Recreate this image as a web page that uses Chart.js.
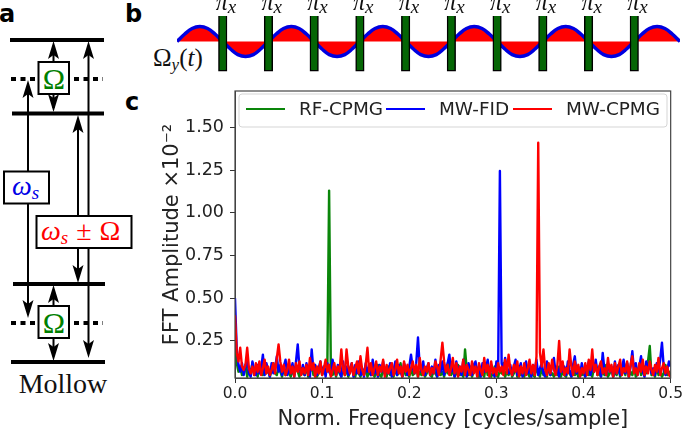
<!DOCTYPE html>
<html>
<head>
<meta charset="utf-8">
<title>Mollow FFT</title>
<script src="https://cdn.jsdelivr.net/npm/chart.js@4"></script>
<style>
html, body { margin: 0; padding: 0; background: #fff; }
body { width: 685px; height: 432px; overflow: hidden; position: relative; }
svg, .panel { position: absolute; }
canvas { display: block; }
#diagram { left: 0; top: 0; }
#pulsePanel { left: 140px; top: 0; width: 545px; height: 85px; }
#fftPanel { left: 140px; top: 85px; width: 545px; height: 347px; }
</style>
</head>
<body>
<!-- level diagram (panel a) and the panel letters, no data in here -->
<svg id="diagram" width="685" height="432" font-family="Liberation Serif">
	<defs>
		<g id="headUp"><path d="M0 0 L5.5 18 L0 14 L-5.5 18 Z" fill="#000"/></g>
	</defs>
	<g stroke="#000" stroke-width="4">
		<line x1="10" y1="40" x2="104" y2="40"/>
		<line x1="12" y1="113.5" x2="104" y2="113.5"/>
		<line x1="13" y1="284" x2="105" y2="284"/>
		<line x1="11" y1="362" x2="105" y2="362"/>
		<g stroke-dasharray="5 4.5">
			<line x1="11" y1="79" x2="39" y2="79"/>
			<line x1="74" y1="79" x2="103" y2="79"/>
			<line x1="11" y1="323" x2="39" y2="323"/>
			<line x1="74" y1="323" x2="103" y2="323"/>
		</g>
	</g>
	<g stroke="#000" stroke-width="2">
		<line x1="28" y1="84" x2="28" y2="312"/>
		<line x1="78" y1="120" x2="78" y2="278"/>
		<line x1="88.5" y1="46" x2="88.5" y2="352"/>
		<line x1="53.5" y1="46" x2="53.5" y2="108"/>
		<line x1="53.5" y1="290" x2="53.5" y2="356"/>
	</g>
	<use href="#headUp" x="53.5" y="41"/>
	<use href="#headUp" x="88.5" y="41"/>
	<use href="#headUp" x="28" y="80"/>
	<use href="#headUp" x="78" y="115"/>
	<use href="#headUp" x="53.5" y="285"/>
	<use href="#headUp" transform="translate(53.5 112) scale(1 -1)"/>
	<use href="#headUp" transform="translate(28 318) scale(1 -1)"/>
	<use href="#headUp" transform="translate(78 283) scale(1 -1)"/>
	<use href="#headUp" transform="translate(53.5 361) scale(1 -1)"/>
	<use href="#headUp" transform="translate(88.5 358) scale(1 -1)"/>
	<g fill="#fff" stroke="#000" stroke-width="2">
		<rect x="38.5" y="62" width="30.5" height="32"/>
		<rect x="38.5" y="306" width="30.5" height="32"/>
		<rect x="4" y="171.5" width="45" height="32"/>
		<rect x="36.5" y="216" width="95" height="32"/>
	</g>
	<g text-anchor="middle" font-size="30" fill="#008000">
		<text x="53.8" y="89">Ω</text>
		<text x="53.8" y="333">Ω</text>
	</g>
	<text x="12" y="195" font-size="28" font-style="italic" fill="#0000e6">ω<tspan font-size="19" dy="4">s</tspan></text>
	<text x="41" y="240" font-size="28" fill="#ff0000"><tspan font-style="italic">ω</tspan><tspan font-size="19" font-style="italic" dy="4">s</tspan><tspan dy="-4" dx="8">±</tspan><tspan dx="8">Ω</tspan></text>
	<text x="63" y="393" font-size="28" text-anchor="middle" fill="#111">Mollow</text>
	<text x="153" y="66" font-size="25" fill="#111">Ω<tspan font-size="17" font-style="italic" dy="4">y</tspan><tspan dy="-4">(</tspan><tspan font-style="italic">t</tspan>)</text>
	<g font-family="DejaVu Sans" font-weight="bold" font-size="24" fill="#000">
		<text x="-1" y="22">a</text>
		<text x="125" y="22">b</text>
		<text x="125" y="110">c</text>
	</g>
</svg>
<div class="panel" id="pulsePanel"><canvas id="pulseChart" width="545" height="85"></canvas></div>
<div class="panel" id="fftPanel"><canvas id="fftChart" width="545" height="347"></canvas></div>

<script>
// frequency bins shared by the three spectra
const freqs = [
	0.000,0.002,0.004,0.006,0.008,0.010,0.012,0.014,0.016,0.018,
	0.020,0.022,0.024,0.026,0.028,0.030,0.032,0.034,0.036,0.038,
	0.040,0.042,0.044,0.046,0.048,0.050,0.052,0.054,0.056,0.058,
	0.060,0.062,0.064,0.066,0.068,0.070,0.072,0.074,0.076,0.078,
	0.080,0.082,0.084,0.086,0.088,0.090,0.092,0.094,0.096,0.098,
	0.100,0.102,0.104,0.106,0.108,0.110,0.112,0.114,0.116,0.118,
	0.120,0.122,0.124,0.126,0.128,0.130,0.132,0.134,0.136,0.138,
	0.140,0.142,0.144,0.146,0.148,0.150,0.152,0.154,0.156,0.158,
	0.160,0.162,0.164,0.166,0.168,0.170,0.172,0.174,0.176,0.178,
	0.180,0.182,0.184,0.186,0.188,0.190,0.192,0.194,0.196,0.198,
	0.200,0.202,0.204,0.206,0.208,0.210,0.212,0.214,0.216,0.218,
	0.220,0.222,0.224,0.226,0.228,0.230,0.232,0.234,0.236,0.238,
	0.240,0.242,0.244,0.246,0.248,0.250,0.252,0.254,0.256,0.258,
	0.260,0.262,0.264,0.266,0.268,0.270,0.272,0.274,0.276,0.278,
	0.280,0.282,0.284,0.286,0.288,0.290,0.292,0.294,0.296,0.298,
	0.300,0.302,0.304,0.306,0.308,0.310,0.312,0.314,0.316,0.318,
	0.320,0.322,0.324,0.326,0.328,0.330,0.332,0.334,0.336,0.338,
	0.340,0.342,0.344,0.346,0.348,0.350,0.352,0.354,0.356,0.358,
	0.360,0.362,0.364,0.366,0.368,0.370,0.372,0.374,0.376,0.378,
	0.380,0.382,0.384,0.386,0.388,0.390,0.392,0.394,0.396,0.398,
	0.400,0.402,0.404,0.406,0.408,0.410,0.412,0.414,0.416,0.418,
	0.420,0.422,0.424,0.426,0.428,0.430,0.432,0.434,0.436,0.438,
	0.440,0.442,0.444,0.446,0.448,0.450,0.452,0.454,0.456,0.458,
	0.460,0.462,0.464,0.466,0.468,0.470,0.472,0.474,0.476,0.478,
	0.480,0.482,0.484,0.486,0.488,0.490,0.492,0.494,0.496,0.498,
	0.500
];

const rfCpmg = [
	.25,.12,.07,.10,.05,.08,.11,.04,.09,.06,
	.12,.05,.08,.04,.10,.07,.05,.11,.06,.09,
	.04,.08,.12,.06,.05,.10,.07,.04,.09,.05,
	.11,.06,.04,.08,.05,.10,.07,.04,.09,.06,
	.05,.10,.04,.07,.12,.05,.08,.04,.06,.10,
	.05,.08,.06,.11,1.13,.10,.05,.08,.04,.09,
	.06,.04,.10,.05,.08,.04,.07,.11,.05,.04,
	.09,.06,.04,.08,.05,.10,.04,.07,.05,.09,
	.04,.06,.11,.05,.04,.08,.06,.04,.10,.05,
	.07,.04,.09,.05,.06,.12,.04,.08,.05,.07,
	.04,.09,.05,.06,.10,.04,.07,.05,.08,.04,
	.06,.11,.05,.04,.08,.06,.04,.10,.05,.07,
	.04,.09,.06,.12,.05,.08,.04,.06,.11,.05,
	.07,.04,.20,.08,.05,.10,.04,.07,.12,.05,
	.04,.09,.06,.04,.11,.05,.08,.04,.06,.10,
	.05,.04,.08,.06,.12,.04,.07,.05,.09,.04,
	.06,.10,.04,.07,.05,.09,.04,.11,.06,.04,
	.08,.05,.04,.10,.06,.04,.09,.05,.07,.04,
	.11,.05,.06,.04,.08,.05,.10,.04,.07,.05,
	.04,.09,.06,.04,.11,.05,.07,.04,.08,.05,
	.06,.04,.10,.05,.07,.04,.09,.12,.05,.06,
	.04,.08,.05,.11,.04,.06,.09,.04,.07,.05,
	.10,.04,.06,.08,.05,.12,.04,.07,.05,.09,
	.04,.06,.11,.05,.08,.10,.06,.13,.22,.05,
	.07,.04,.10,.05,.08,.04,.06,.11,.05,.07,
	.05
];

const mwFid = [
	.50,.20,.11,.07,.12,.05,.10,.14,.06,.04,
	.13,.08,.05,.11,.06,.09,.17,.05,.12,.08,
	.04,.12,.06,.09,.16,.07,.11,.05,.10,.14,
	.05,.09,.06,.12,.04,.13,.23,.09,.06,.11,
	.05,.12,.07,.04,.20,.08,.11,.05,.09,.13,
	.06,.10,.04,.12,.07,.05,.14,.09,.05,.11,
	.07,.04,.13,.06,.10,.05,.09,.12,.04,.11,
	.06,.13,.05,.09,.04,.12,.07,.10,.05,.14,
	.06,.09,.04,.11,.07,.13,.05,.10,.06,.12,
	.04,.08,.13,.05,.11,.07,.04,.12,.09,.05,
	.10,.17,.09,.06,.12,.27,.10,.07,.13,.05,
	.09,.12,.05,.10,.06,.14,.04,.11,.07,.13,
	.05,.09,.12,.17,.07,.11,.04,.13,.06,.10,
	.05,.14,.07,.04,.12,.08,.05,.11,.13,.06,
	.10,.04,.12,.07,.09,.14,.05,.11,.06,.04,
	.13,.08,1.245,.12,.07,.15,.09,.06,.11,.05,
	.10,.14,.05,.08,.12,.04,.09,.13,.06,.10,
	.04,.11,.07,.14,.05,.09,.12,.06,.04,.13,
	.08,.05,.11,.15,.06,.09,.04,.12,.07,.10,
	.05,.13,.08,.04,.11,.16,.06,.10,.05,.12,
	.07,.04,.09,.13,.05,.11,.07,.14,.06,.10,
	.04,.18,.08,.05,.12,.07,.10,.04,.13,.06,
	.11,.05,.09,.14,.06,.12,.04,.10,.19,.07,
	.12,.05,.10,.16,.07,.04,.13,.08,.11,.06,
	.09,.05,.12,.07,.14,.24,.10,.05,.08,.13,
	.10
];

const mwCpmg = [
	.40,.18,.13,.21,.10,.08,.11,.21,.09,.06,
	.10,.05,.12,.07,.13,.05,.09,.14,.06,.10,
	.05,.08,.12,.06,.15,.23,.13,.07,.11,.05,
	.08,.14,.06,.10,.04,.12,.07,.13,.05,.09,
	.06,.11,.05,.15,.08,.12,.04,.10,.06,.13,
	.05,.09,.14,.07,.11,.04,.08,.12,.05,.10,
	.07,.20,.08,.05,.20,.10,.06,.12,.05,.09,
	.13,.06,.16,.08,.05,.11,.21,.07,.12,.05,
	.09,.13,.05,.10,.07,.14,.04,.11,.06,.09,
	.12,.05,.08,.14,.06,.10,.04,.13,.07,.11,
	.05,.09,.13,.06,.11,.04,.15,.08,.05,.10,
	.07,.12,.05,.09,.06,.13,.10,.05,.14,.24,
	.13,.07,.11,.05,.09,.15,.06,.12,.04,.10,
	.07,.14,.05,.11,.08,.05,.13,.06,.10,.04,
	.12,.08,.05,.15,.07,.11,.04,.13,.06,.09,
	.05,.12,.07,.10,.05,.14,.06,.17,.08,.05,
	.11,.07,.13,.04,.10,.06,.12,.05,.09,.14,
	.06,.11,.05,.16,1.41,.18,.10,.20,.08,.05,
	.12,.06,.14,.08,.05,.11,.25,.07,.13,.05,
	.09,.06,.20,.10,.05,.13,.07,.11,.04,.09,
	.06,.12,.05,.14,.08,.20,.07,.11,.05,.10,
	.13,.06,.09,.05,.15,.07,.11,.04,.12,.06,
	.10,.14,.05,.09,.07,.13,.04,.11,.16,.06,
	.09,.05,.12,.07,.14,.05,.10,.06,.13,.08,
	.05,.11,.07,.15,.05,.09,.12,.06,.10,.05,
	.04
];

const yTicks = [0.25, 0.50, 0.75, 1.00, 1.25, 1.50];

// panel b: drive envelope and the pi pulses, time in pulse spacings
const waveTimes = [
	0,.17,.33,.5,.67,.83,1,1.17,1.33,1.5,1.67,1.83,2,2.17,2.33,2.5,2.67,2.83,3,3.17,3.33,3.5,3.67,
	3.83,4,4.17,4.33,4.5,4.67,4.83,5,5.17,5.33,5.5,5.67,5.83,6,6.17,6.33,6.5,6.67,6.83,7,7.17,7.33,
	7.5,7.67,7.83,8,8.17,8.33,8.5,8.67,8.83,9,9.17,9.33,9.5,9.67,9.83,10,10.17,10.33,10.5,10.67,10.83,11
];
const waveValues = [
	0,.5,.87,1,.87,.5,0,-.5,-.87,-1,-.87,-.5,0,.5,.87,1,.87,.5,0,-.5,-.87,-1,-.87,
	-.5,0,.5,.87,1,.87,.5,0,-.5,-.87,-1,-.87,-.5,0,.5,.87,1,.87,.5,0,-.5,-.87,
	-1,-.87,-.5,0,.5,.87,1,.87,.5,0,-.5,-.87,-1,-.87,-.5,0,.5,.87,1,.87,.5,0
];
const pulseTimes = [1, 2, 3, 4, 5, 6, 7, 8, 9, 10];
const pulseLow = -1.97;
const pulseHigh = 1.7;

function toPoints(xs, ys) {
	return xs.map(function (x, i) {
		return { x: x, y: ys[i] };
	});
}

// pi_x labels sit over the pulses, placed from the x scale
const pulseLabels = {
	id: "pulseLabels",
	afterDatasetsDraw(chart) {
		const ctx = chart.ctx;
		const xScale = chart.scales.x;
		ctx.save();
		ctx.fillStyle = "#111";
		ctx.textAlign = "left";
		ctx.textBaseline = "alphabetic";
		for (let t of pulseTimes) {
			const px = xScale.getPixelForValue(t);
			ctx.font = "italic 24px 'Liberation Serif'";
			ctx.fillText("π", px - 7, 10);
			ctx.font = "italic 19px 'Liberation Serif'";
			ctx.fillText("x", px + 5, 13);
		}
		ctx.restore();
	},
};

new Chart(document.getElementById("pulseChart"), {
	data: {
		datasets: [
			{
				type: "bar",
				label: "pi pulses",
				data: pulseTimes.map(function (t) {
					return { x: t, y: [pulseLow, pulseHigh] };
				}),
				backgroundColor: "#056605",
				borderColor: "#000",
				borderWidth: 1.5,
				barThickness: 8.5,
				grouped: false,
				order: 1,
			},
			{
				type: "line",
				label: "drive",
				data: toPoints(waveTimes, waveValues),
				borderColor: "#0000e0",
				borderWidth: 3.5,
				backgroundColor: "#ff0000",
				fill: "origin",
				tension: 0.4,
				pointRadius: 0,
				order: 2,
			},
		],
	},
	options: {
		responsive: false,
		animation: false,
		maintainAspectRatio: false,
		layout: { padding: { left: 37, right: 5, top: 0, bottom: 0 } },
		plugins: { legend: { display: false }, tooltip: { enabled: false } },
		scales: {
			x: { type: "linear", display: false, min: 0, max: 11, offset: false },
			y: { display: false, min: -2.9, max: 2.77 },
		},
	},
	plugins: [pulseLabels],
});

// matplotlib style frame plus a legend box inside the axes
const frameAndLegend = {
	id: "frameAndLegend",
	afterDraw(chart) {
		const ctx = chart.ctx;
		const area = chart.chartArea;
		const legendEntries = [
			{ index: 0, lineX: 106, textX: 159 },
			{ index: 1, lineX: 246, textX: 299 },
			{ index: 2, lineX: 373, textX: 426 },
		];
		ctx.save();
		ctx.strokeStyle = "#444";
		ctx.lineWidth = 1.2;
		ctx.strokeRect(area.left, area.top, area.right - area.left, area.bottom - area.top);

		ctx.fillStyle = "rgba(255,255,255,0.8)";
		ctx.strokeStyle = "#d5d5d5";
		ctx.lineWidth = 1;
		ctx.beginPath();
		ctx.roundRect(area.left + 4, area.top + 3, 428, 33, 3);
		ctx.fill();
		ctx.stroke();

		ctx.font = "18.4px 'DejaVu Sans'";
		ctx.textBaseline = "middle";
		ctx.textAlign = "left";
		for (let entry of legendEntries) {
			const ds = chart.data.datasets[entry.index];
			ctx.strokeStyle = ds.borderColor;
			ctx.lineWidth = 1.8;
			ctx.beginPath();
			ctx.moveTo(entry.lineX, area.top + 18);
			ctx.lineTo(entry.lineX + 39, area.top + 18);
			ctx.stroke();
			ctx.fillStyle = "#222";
			ctx.fillText(ds.label, entry.textX, area.top + 19);
		}
		ctx.restore();
	},
};

new Chart(document.getElementById("fftChart"), {
	type: "line",
	data: {
		datasets: [
			{ label: "RF-CPMG", data: toPoints(freqs, rfCpmg), borderColor: "#0a860a", order: 3 },
			{ label: "MW-FID", data: toPoints(freqs, mwFid), borderColor: "#0000ff", order: 2 },
			{ label: "MW-CPMG", data: toPoints(freqs, mwCpmg), borderColor: "#ff0000", order: 1 },
		],
	},
	options: {
		responsive: false,
		animation: false,
		maintainAspectRatio: false,
		layout: { padding: { left: 20, right: 14, top: 6, bottom: 0 } },
		elements: {
			line: { borderWidth: 2.4, tension: 0, borderJoinStyle: "round" },
			point: { radius: 0 },
		},
		plugins: { legend: { display: false }, tooltip: { enabled: false } },
		scales: {
			x: {
				type: "linear",
				min: 0,
				max: 0.5,
				grid: { drawOnChartArea: false, tickLength: 5, color: "#333" },
				border: { color: "#444" },
				ticks: {
					stepSize: 0.1,
					maxRotation: 0,
					padding: 2,
					color: "#222",
					font: { family: "DejaVu Sans", size: 15.5 },
					callback: function (v) {
						return v.toFixed(1);
					},
				},
				title: {
					display: true,
					text: "Norm. Frequency [cycles/sample]",
					color: "#222",
					font: { family: "DejaVu Sans", size: 21 },
					padding: { top: 0, bottom: 0 },
				},
				afterFit: function (scale) {
					scale.height = 54;
				},
			},
			y: {
				min: 0.033,
				max: 1.713,
				grid: { drawOnChartArea: false, tickLength: 5, color: "#333" },
				border: { color: "#444" },
				afterBuildTicks: function (scale) {
					scale.ticks = yTicks.map(function (v) {
						return { value: v };
					});
				},
				ticks: {
					padding: 6,
					color: "#222",
					font: { family: "DejaVu Sans", size: 17.5 },
					callback: function (v) {
						return v.toFixed(2);
					},
				},
				title: {
					display: true,
					text: "FFT Amplitude ×10⁻²",
					color: "#222",
					font: { family: "DejaVu Sans", size: 21 },
					padding: { top: 0, bottom: 2 },
				},
				afterFit: function (scale) {
					scale.width = 75;
					// the labels must not push the plot area down
					scale.paddingTop = 0;
					scale.paddingBottom = 0;
				},
			},
		},
	},
	plugins: [frameAndLegend],
});
</script>
</body>
</html>
